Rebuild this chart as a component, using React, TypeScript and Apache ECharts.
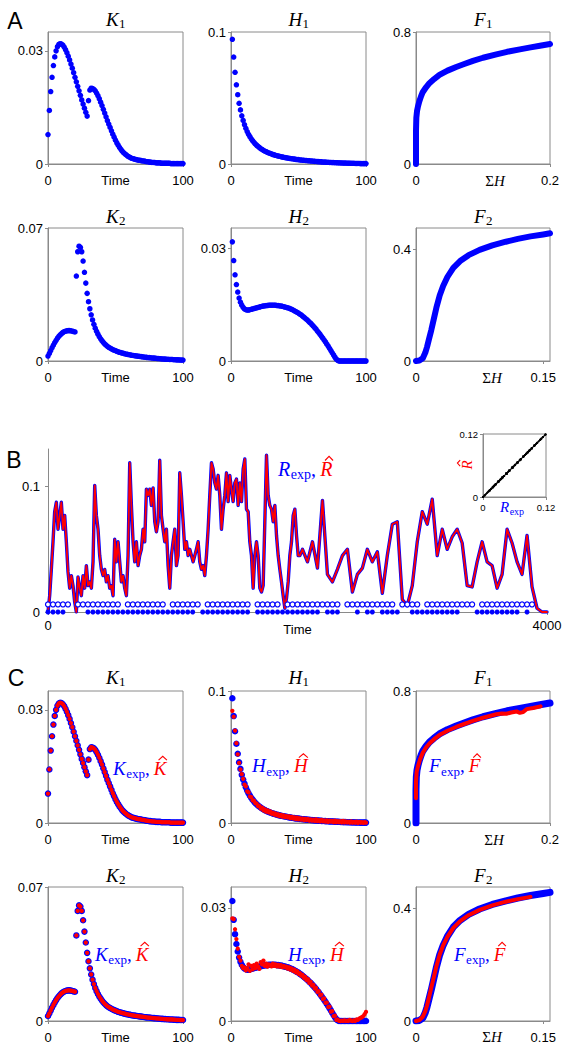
import React, { useEffect, useRef } from "react";
import * as echarts from "echarts";

// ---------------- data ----------------
// panel A/C row 1, time 0..100 (K1) and 1..100 (H1)
const K1 = [
  0.0078, 0.0142, 0.0192, 0.023, 0.0261, 0.0284, 0.03, 0.0311, 0.0317, 0.0319,
  0.0318, 0.0315, 0.031, 0.0303, 0.0295, 0.0286, 0.0276, 0.0265, 0.0254, 0.0242,
  0.023, 0.0218, 0.0206, 0.0194, 0.0182, 0.017, 0.0159, 0.0148, 0.0137, 0.0127,
  0.0168, 0.0196, 0.0201, 0.02, 0.0198, 0.0194, 0.0188, 0.0181, 0.0173, 0.0164,
  0.0155, 0.0145, 0.0135, 0.0125, 0.0115, 0.0106, 0.0097, 0.0088, 0.0079, 0.0071,
  0.0063, 0.0056, 0.005, 0.0044, 0.0039, 0.0034, 0.003, 0.0027, 0.0024, 0.0021,
  0.0019, 0.0017, 0.0015, 0.0014, 0.0013, 0.0012, 0.0011, 0.001, 0.001, 0.0009,
  0.0008, 0.0008, 0.0007, 0.0006, 0.0006, 0.0005, 0.0005, 0.0004, 0.0004, 0.0004,
  0.0003, 0.0003, 0.0003, 0.0003, 0.0002, 0.0002, 0.0002, 0.0002, 0.0002, 0.0002,
  0.0002, 0.0001, 0.0001, 0.0001, 0.0001, 0.0001, 0.0001, 0.0001, 0.0001, 0.0001, 0.0001,
];
const H1 = [
  0.0945, 0.081, 0.0695, 0.06, 0.0525, 0.046, 0.041, 0.0365, 0.033, 0.0298,
  0.027, 0.0246, 0.0225, 0.0207, 0.0191, 0.0177, 0.0164, 0.0152, 0.0142, 0.0133,
  0.0125, 0.0117, 0.011, 0.0104, 0.0098, 0.0093, 0.0088, 0.0084, 0.008, 0.0076,
  0.0072, 0.0069, 0.0066, 0.0063, 0.006, 0.0058, 0.0055, 0.0053, 0.0051, 0.0049,
  0.0047, 0.0045, 0.0043, 0.0041, 0.004, 0.0038, 0.0037, 0.0035, 0.0034, 0.0033,
  0.0031, 0.003, 0.0029, 0.0028, 0.0027, 0.0026, 0.0025, 0.0024, 0.0023, 0.0022,
  0.0021, 0.002, 0.0019, 0.0018, 0.0018, 0.0017, 0.0016, 0.0015, 0.0015, 0.0014,
  0.0013, 0.0013, 0.0012, 0.0012, 0.0011, 0.0011, 0.001, 0.001, 0.0009, 0.0009,
  0.0008, 0.0008, 0.0007, 0.0007, 0.0007, 0.0006, 0.0006, 0.0006, 0.0005, 0.0005,
  0.0005, 0.0004, 0.0004, 0.0004, 0.0004, 0.0003, 0.0003, 0.0003, 0.0003, 0.0003,
];
const H1_HAT = [
  0.085, 0.0805, 0.07, 0.0605, 0.052, 0.0455, 0.0405, 0.037, 0.0335, 0.029,
  0.0278, 0.024, 0.0232, 0.02, 0.0196, 0.0172, 0.017, 0.015, 0.0146, 0.0128,
  0.013, 0.011, 0.0116, 0.0096, 0.0104, 0.0086, 0.0096, 0.008, 0.0088, 0.007,
  0.0078, 0.0064, 0.0072, 0.0058, 0.0066, 0.0052, 0.0062, 0.0048, 0.0058, 0.0044,
  0.0052, 0.0042, 0.005, 0.0036, 0.0046, 0.0034, 0.0042, 0.003, 0.004, 0.0028,
  0.0036, 0.0026, 0.0034, 0.0022, 0.0032, 0.0022, 0.003, 0.0018, 0.0028, 0.0018,
  0.0026, 0.0016, 0.0028, 0.0014, 0.0022, 0.0012, 0.0024, 0.0012, 0.002, 0.001,
  0.002, 0.0008, 0.0018, 0.001, 0.0016, 0.0006, 0.0018, 0.0006, 0.0014, 0.0006,
  0.0014, 0.0004, 0.0016, 0.0004, 0.0012, 0.0004, 0.001, 0.0002, 0.0012, 0.0002,
  0.0008, 0.0002, 0.001, 0.0, 0.0008, 0.0002, 0.0006, 0.0, 0.0006, 0.0002,
];
const F1_SUMH = [0, 0, 0, 0.0005, 0.0015, 0.003, 0.005, 0.0075, 0.01, 0.015, 0.02, 0.027, 0.035, 0.047, 0.06, 0.072, 0.085, 0.1, 0.12, 0.136, 0.155, 0.171, 0.185, 0.2];
const F1_VAL = [0, 0.1, 0.2, 0.28, 0.32, 0.35, 0.38, 0.41, 0.435, 0.465, 0.49, 0.515, 0.54, 0.566, 0.588, 0.606, 0.625, 0.644, 0.664, 0.68, 0.695, 0.707, 0.717, 0.727];
const F1_HAT_SUMH = [0, 0, 0.001, 0.003, 0.006, 0.01, 0.015, 0.02, 0.027, 0.035, 0.047, 0.06, 0.072, 0.085, 0.1, 0.12, 0.128, 0.135, 0.142, 0.15, 0.155, 0.16, 0.165, 0.175, 0.186];
const F1_HAT_VAL = [0.15, 0.25, 0.31, 0.345, 0.385, 0.425, 0.458, 0.482, 0.508, 0.533, 0.559, 0.582, 0.6, 0.619, 0.638, 0.659, 0.663, 0.662, 0.67, 0.676, 0.668, 0.672, 0.69, 0.697, 0.707];

// row 2
const K2 = [
  0.0026, 0.004, 0.0055, 0.007, 0.0084, 0.0097, 0.0109, 0.012, 0.0129, 0.0137,
  0.0144, 0.015, 0.0154, 0.0157, 0.0159, 0.016, 0.016, 0.0159, 0.0157, 0.0155,
  0.0153, 0.0447, 0.0575, 0.0604, 0.0598, 0.0575, 0.0526, 0.0467, 0.041, 0.0356,
  0.0312, 0.0275, 0.0243, 0.0216, 0.0193, 0.0173, 0.0156, 0.0141, 0.0128, 0.0117,
  0.0107, 0.0098, 0.009, 0.0083, 0.0077, 0.0072, 0.0068, 0.0064, 0.006, 0.0057,
  0.0054, 0.0051, 0.0048, 0.0046, 0.0044, 0.0042, 0.004, 0.0038, 0.0036, 0.0035,
  0.0033, 0.0032, 0.003, 0.0029, 0.0028, 0.0027, 0.0026, 0.0025, 0.0024, 0.0023,
  0.0022, 0.0021, 0.002, 0.0019, 0.0018, 0.0018, 0.0017, 0.0016, 0.0015, 0.0015,
  0.0014, 0.0013, 0.0013, 0.0012, 0.0011, 0.0011, 0.001, 0.001, 0.0009, 0.0009,
  0.0008, 0.0008, 0.0008, 0.0007, 0.0007, 0.0006, 0.0006, 0.0006, 0.0005, 0.0005, 0.0005,
];
const H2 = [
  0.0318, 0.0268, 0.023, 0.0204, 0.0184, 0.0168, 0.0157, 0.0149, 0.0143, 0.0139,
  0.0137, 0.0136, 0.0136, 0.0137, 0.0138, 0.0139, 0.014, 0.0141, 0.0142, 0.0143,
  0.0144, 0.0145, 0.0146, 0.0147, 0.0147, 0.0148, 0.0148, 0.0149, 0.0149, 0.0149,
  0.0149, 0.0149, 0.0149, 0.0148, 0.0148, 0.0147, 0.0147, 0.0146, 0.0145, 0.0144,
  0.0143, 0.0142, 0.0141, 0.0139, 0.0138, 0.0136, 0.0134, 0.0132, 0.013, 0.0128,
  0.0125, 0.0123, 0.012, 0.0117, 0.0114, 0.0111, 0.0108, 0.0104, 0.0101, 0.0097,
  0.0093, 0.0089, 0.0085, 0.008, 0.0076, 0.0071, 0.0066, 0.0061, 0.0056, 0.0051,
  0.0045, 0.004, 0.0034, 0.0028, 0.0022, 0.0016, 0.001, 0.0005, 0.0002, 0,
  0, 0, 0, 0, 0, 0, 0, 0, 0, 0,
  0, 0, 0, 0, 0, 0, 0, 0, 0, 0,
];
const H2_HAT = [
  0.0272, 0.027, 0.0243, 0.0217, 0.0192, 0.017, 0.016, 0.0146, 0.014, 0.0142,
  0.0134, 0.014, 0.015, 0.0133, 0.0146, 0.0137, 0.0148, 0.014, 0.0152, 0.0145,
  0.0138, 0.0156, 0.015, 0.016, 0.0146, 0.0152, 0.0144, 0.015, 0.0147, 0.0145,
  0.0152, 0.0146, 0.015, 0.0145, 0.0149, 0.0144, 0.0148, 0.0143, 0.0146, 0.0142,
  0.0144, 0.0139, 0.0142, 0.0136, 0.0139, 0.0133, 0.0136, 0.0129, 0.0132, 0.0125,
  0.0127, 0.012, 0.0122, 0.0114, 0.0117, 0.0108, 0.0111, 0.0101, 0.0104, 0.0094,
  0.0096, 0.0086, 0.0088, 0.0077, 0.0079, 0.0068, 0.007, 0.0058, 0.006, 0.0048,
  0.0049, 0.0037, 0.0038, 0.0025, 0.0026, 0.0013, 0.0014, 0.0003, 0.0004, 0.0,
  0.0, 0.0001, 0.0, 0.0002, 0.0, 0.0001, 0.0, 0.0003, 0.0001, 0.0,
  0.0002, 0.0, 0.0004, 0.0003, 0.0006, 0.0008, 0.001, 0.0013, 0.0018, 0.0024,
];
const F2_SUMH = [0, 0.004, 0.008, 0.011, 0.013, 0.0155, 0.018, 0.021, 0.024, 0.028, 0.032, 0.037, 0.044, 0.052, 0.062, 0.075, 0.09, 0.106, 0.12, 0.135, 0.15, 0.158];
const F2_VAL = [0, 0.002, 0.01, 0.03, 0.05, 0.08, 0.11, 0.15, 0.19, 0.235, 0.268, 0.3, 0.333, 0.357, 0.378, 0.397, 0.413, 0.426, 0.436, 0.445, 0.452, 0.456];
const F2_HAT_SUMH = [0, 0.004, 0.008, 0.011, 0.013, 0.0155, 0.018, 0.021, 0.024, 0.028, 0.032, 0.037, 0.044, 0.052, 0.062, 0.075, 0.09, 0.106, 0.12, 0.135];
const F2_HAT_VAL = [0, 0.003, 0.015, 0.035, 0.055, 0.085, 0.118, 0.155, 0.193, 0.236, 0.268, 0.298, 0.33, 0.354, 0.375, 0.394, 0.41, 0.423, 0.432, 0.44];

// panel B: R(t). First part read every 13.37 time units (t = 0 .. 2018),
// second part read every 40 time units (t = 2040 .. 4000)
const B_STEP1 = 13.37;
const B_R1 = [
  0, 0.013, 0.034, 0.056, 0.08, 0.0875, 0.066, 0.077, 0.0875, 0.066,
  0.077, 0.056, 0.032, 0.019, 0.029, 0.021, 0.008, 0, 0.028, 0.019,
  0.013, 0.029, 0.019, 0.037, 0.021, 0.024, 0.019, 0.04, 0.101, 0.077,
  0.066, 0.045, 0.034, 0.029, 0.034, 0.024, 0.029, 0.019, 0.021, 0.013,
  0.058, 0.04, 0.056, 0.04, 0.024, 0.029, 0.019, 0.013, 0.045, 0.119,
  0.085, 0.056, 0.04, 0.056, 0.037, 0.045, 0.05, 0.066, 0.056, 0.098,
  0.093, 0.098, 0.085, 0.099, 0.072, 0.064, 0.072, 0.121, 0.077, 0.066,
  0.056, 0.066, 0.037, 0.019, 0.045, 0.056, 0.066, 0.037, 0.045, 0.111,
  0.093, 0.072, 0.05, 0.056, 0.045, 0.05, 0.045, 0.04, 0.045, 0.05,
  0.056, 0.04, 0.034, 0.037, 0.029, 0.045, 0.066, 0.093, 0.119, 0.114,
  0.103, 0.098, 0.109, 0.093, 0.066, 0.082, 0.093, 0.111, 0.088, 0.109,
  0.098, 0.088, 0.103, 0.106, 0.085, 0.103, 0.088, 0.114, 0.122, 0.082,
  0.08, 0.056, 0.045, 0.019, 0.045, 0.056, 0.045, 0.019, 0.016, 0.021,
  0.072, 0.125, 0.093, 0.085, 0.082, 0.072, 0.085, 0.061, 0.045, 0.034,
  0.024, 0.013, 0.003, 0.011, 0.024, 0.045, 0.056, 0.077, 0.082, 0.061,
  0.045, 0.045,
];
const B_START2 = 2040;
const B_STEP2 = 40;
const B_R2 = [
  0.05, 0.04, 0.056, 0.035, 0.089, 0.03, 0.024, 0.034, 0.045, 0.05,
  0.016, 0.03, 0.035, 0.05, 0.04, 0.048, 0.015, 0.045, 0.07, 0.072,
  0.01, 0.005, 0.021, 0.056, 0.08, 0.07, 0.09, 0.045, 0.066, 0.05,
  0.06, 0.066, 0.055, 0.021, 0.02, 0.04, 0.056, 0.04, 0.037, 0.019,
  0.03, 0.066, 0.055, 0.04, 0.03, 0.061, 0.02, 0.003, 0, 0,
];
// input markers, one character per 40 time units: open circles (level 0.006) and filled circles (level 0)
const B_MARK_STEP = 40;
const B_OPEN_LEVEL = 0.006;
const B_OPEN = "1111101111111110111111110111111011111111101111101111111111101111111111011110111111111101111111111100";
const B_FILLED = "1111000011111111111111111111110111111111101111111111111011100010110111100111111111100011111111101000";
const INSET_LINE = [0, 0.12];

// tick labels
const TIME_TICKS = [0, 100];
const K1_TICKS = [0, 0.03];
const H1_TICKS = [0, 0.1];
const F1_X_TICKS = [0, 0.2];
const F1_Y_TICKS = [0, 0.8];
const K2_TICKS = [0, 0.07];
const H2_TICKS = [0, 0.03];
const F2_X_TICKS = [0, 0.15];
const F2_Y_TICKS = [0, 0.4];
const B_X_TICKS = [0, 4000];
const B_Y_TICKS = [0, 0.1];
const INSET_TICKS = [0, 0.12];

// ---------------- styling ----------------
const SANS = '"Liberation Sans", Arial, sans-serif';
const SERIF_NAME = '"Liberation Serif", "Times New Roman", serif';
const BLUE = "#0000ff";
const RED = "#ff0000";
const GREY = "#8a8a8a";

let measureCtx: CanvasRenderingContext2D | null = null;
function textWidth(text: string, font: string) {
  if (!measureCtx) measureCtx = document.createElement("canvas").getContext("2d");
  measureCtx!.font = font;
  return measureCtx!.measureText(text).width;
}
function serif(size: number, italic: boolean) {
  return `${italic ? "italic " : ""}${size}px ${SERIF_NAME}`;
}
function textEl(x: number, baseline: number, text: string, font: string, size: number, fill: string, align = "left") {
  return {
    type: "text",
    x,
    y: baseline - 0.31 * size,
    silent: true,
    z: 100,
    style: { text, font, fill, align, verticalAlign: "middle", textAlign: align, textVerticalAlign: "middle" },
  };
}
function hatEl(x: number, baseline: number, size: number, w: number, color: string) {
  const capTop = baseline - 0.66 * size;
  const sh = 0.1 * size;
  return {
    type: "polyline",
    silent: true,
    z: 100,
    shape: { points: [[x + 0.22 * w + sh, capTop - 1.3], [x + 0.55 * w + sh, capTop - 0.27 * size], [x + 0.88 * w + sh, capTop - 1.3]] },
    style: { stroke: color, lineWidth: 1.1, fill: null },
  };
}
function title(cx: number, baseline: number, letter: string, sub: string) {
  const s = 19, ss = 13;
  const f1 = serif(s, true), f2 = serif(ss, false);
  const w1 = textWidth(letter, f1), w2 = textWidth(sub, f2);
  const x0 = cx - (w1 + w2) / 2;
  return [textEl(x0, baseline, letter, f1, s, "#000"), textEl(x0 + w1 + 0.5, baseline + 2.5, sub, f2, ss, "#000")];
}
function expLabel(x: number, baseline: number, letter: string, size = 19) {
  const fL = serif(size, true);
  const ss = Math.round(size * 0.68);
  const fS = serif(ss, false);
  const fC = serif(size, false);
  const w1 = textWidth(letter, fL);
  const w2 = textWidth("exp", fS);
  const w3 = textWidth(",", fC);
  const xr = x + w1 + 0.5 + w2 + w3 + 0.22 * size;
  return [
    textEl(x, baseline, letter, fL, size, BLUE),
    textEl(x + w1 + 0.5, baseline + 0.2 * size, "exp", fS, ss, BLUE),
    textEl(x + w1 + 0.5 + w2, baseline, ",", fC, size, BLUE),
    textEl(xr, baseline, letter, fL, size, RED),
    hatEl(xr, baseline, size, w1, RED),
  ];
}
function sigmaH(cx: number, cy: number) {
  const s = 15;
  const f1 = serif(s, false), f2 = serif(s, true);
  const w1 = textWidth("Σ", f1), w2 = textWidth("H", f2);
  const x0 = cx - (w1 + w2) / 2;
  const b = cy + 0.31 * s;
  return [textEl(x0, b, "Σ", f1, s, "#000"), textEl(x0 + w1, b, "H", f2, s, "#000")];
}
function letterEl(cx: number, cy: number, t: string) {
  return { type: "text", x: cx, y: cy, silent: true, z: 100, style: { text: t, font: `23px ${SANS}`, fill: "#000", align: "center", verticalAlign: "middle", textAlign: "center", textVerticalAlign: "middle" } };
}

function fmt(ticks: number[]) {
  return (v: number) => {
    const hit = ticks.find((t) => Math.abs(t - v) < 1e-9);
    return hit === undefined ? "" : String(hit);
  };
}

type AxisSpec = { max: number; ticks: number[]; fontSize?: number; margin?: number; name?: string; nameGap?: number };
function xAxis(gi: number, a: AxisSpec) {
  return {
    type: "value", gridIndex: gi, min: 0, max: a.max, interval: a.ticks[1] - a.ticks[0],
    name: a.name || "", nameLocation: "middle", nameGap: a.nameGap ?? 10, nameMoveOverlap: false,
    nameTextStyle: { fontFamily: SANS, fontSize: 13, color: "#000" },
    axisLine: { show: true, onZero: false, lineStyle: { color: GREY, width: 1 } },
    axisTick: { show: true, length: 3, inside: false, customValues: a.ticks, lineStyle: { color: GREY } },
    axisLabel: { show: true, customValues: a.ticks, formatter: fmt(a.ticks), color: "#000", fontFamily: SANS, fontSize: a.fontSize ?? 13, margin: a.margin ?? 10, hideOverlap: false },
    splitLine: { show: false },
  };
}
function yAxis(gi: number, a: AxisSpec) {
  return {
    type: "value", gridIndex: gi, min: 0, max: a.max, interval: a.ticks[1] - a.ticks[0],
    axisLine: { show: true, onZero: false, lineStyle: { color: GREY, width: 1 } },
    axisTick: { show: true, length: 3, inside: false, customValues: a.ticks, lineStyle: { color: GREY } },
    axisLabel: { show: true, customValues: a.ticks, formatter: fmt(a.ticks), color: "#000", fontFamily: SANS, fontSize: a.fontSize ?? 13, margin: a.margin ?? 5, hideOverlap: false },
    splitLine: { show: false },
  };
}
function dots(gi: number, data: number[][], color: string, size: number, z = 3) {
  return { type: "scatter", xAxisIndex: gi, yAxisIndex: gi, data, symbol: "circle", symbolSize: size, itemStyle: { color, opacity: 1 }, z, silent: true, animation: false };
}
function curve(gi: number, data: number[][], color: string, width: number, z = 3, opacity = 1) {
  return { type: "line", xAxisIndex: gi, yAxisIndex: gi, data, symbol: "none", showSymbol: false, lineStyle: { color, width, cap: "round", join: "round", opacity }, z, silent: true, animation: false };
}
const fromT0 = (arr: number[]) => arr.map((v, i) => [i, v]);
const fromT1 = (arr: number[]) => arr.map((v, i) => [i + 1, v]);
const zip = (xs: number[], ys: number[]) => xs.map((x, i) => [x, ys[i]]);

function buildOption() {
  // grid boxes: [left, top, width, height]
  const boxes = [
    [48, 32, 135, 132], [231, 32, 135, 132], [416, 32, 134, 132],
    [48, 228, 135, 133], [231, 228, 135, 133], [416, 228, 134, 133],
    [48, 449, 499, 163],
    [483, 434, 63, 63],
    [48, 691, 135, 132], [231, 691, 135, 132], [416, 691, 134, 132],
    [48, 887, 135, 134], [231, 887, 135, 134], [416, 887, 134, 134],
  ];
  const grid = boxes.map((b, i) => ({
    left: b[0], top: b[1], width: b[2], height: b[3],
    show: i !== 6, borderColor: GREY, borderWidth: 1, backgroundColor: "transparent",
    containLabel: false, outerBoundsMode: "none",
  }));

  const timeX = { max: 100, ticks: TIME_TICKS, name: "Time" };
  const xs: any[] = [];
  const ys: any[] = [];
  const rowSpecs = [
    [timeX, { max: 0.035, ticks: K1_TICKS }],
    [timeX, { max: 0.1, ticks: H1_TICKS }],
    [{ max: 0.2, ticks: F1_X_TICKS }, { max: 0.8, ticks: F1_Y_TICKS }],
    [timeX, { max: 0.07, ticks: K2_TICKS }],
    [timeX, { max: 0.0355, ticks: H2_TICKS }],
    [{ max: 0.158, ticks: F2_X_TICKS }, { max: 0.475, ticks: F2_Y_TICKS }],
  ];
  rowSpecs.forEach((s, i) => { xs.push(xAxis(i, s[0] as AxisSpec)); ys.push(yAxis(i, s[1] as AxisSpec)); });
  xs.push(xAxis(6, { max: 4000, ticks: B_X_TICKS, name: "Time", margin: 7, nameGap: 11 }));
  ys.push(yAxis(6, { max: 0.13, ticks: B_Y_TICKS, margin: 8 }));
  xs.push(xAxis(7, { max: 0.12, ticks: INSET_TICKS, fontSize: 9.5, margin: 5 }));
  ys.push(yAxis(7, { max: 0.12, ticks: INSET_TICKS, fontSize: 9.5, margin: 5 }));
  rowSpecs.forEach((s, i) => { xs.push(xAxis(8 + i, s[0] as AxisSpec)); ys.push(yAxis(8 + i, s[1] as AxisSpec)); });

  const bData = [
    ...B_R1.map((v, i) => [i * B_STEP1, v]),
    ...B_R2.map((v, i) => [B_START2 + i * B_STEP2, v]),
  ];
  const openPts = B_OPEN.split("").map((c, i) => (c === "1" ? [i * B_MARK_STEP, B_OPEN_LEVEL] : null)).filter(Boolean);
  const filledPts = B_FILLED.split("").map((c, i) => (c === "1" ? [i * B_MARK_STEP, 0] : null)).filter(Boolean) as number[][];

  const DOT_A = 5.5;
  const DOT_CB = 6.5;
  const DOT_CR = 4.3;
  const series: any[] = [
    dots(0, fromT0(K1), BLUE, DOT_A),
    dots(1, fromT1(H1), BLUE, DOT_A),
    curve(2, zip(F1_SUMH, F1_VAL), BLUE, 6),
    dots(3, fromT0(K2), BLUE, DOT_A),
    dots(4, fromT1(H2), BLUE, DOT_A),
    curve(5, zip(F2_SUMH, F2_VAL), BLUE, 6),
    curve(6, bData, BLUE, 3.4, 3),
    curve(6, bData, RED, 1.8, 4),
    {
      type: "scatter", xAxisIndex: 6, yAxisIndex: 6, symbol: "circle", symbolSize: 5, silent: true, z: 5,
      data: openPts,
      itemStyle: { color: "#ffffff", borderColor: BLUE, borderWidth: 1.2, opacity: 1 },
    },
    dots(6, filledPts, BLUE, 5, 5),
    curve(7, INSET_LINE.map((v) => [v, v]), "#000", 1.2, 3),
    dots(7, bData.map((p) => [p[1], p[1]]), "#000", 2.2, 4),
    dots(8, fromT0(K1), BLUE, DOT_CB),
    dots(8, fromT0(K1), RED, DOT_CR, 4),
    dots(9, fromT1(H1), BLUE, DOT_CB),
    dots(9, fromT1(H1_HAT), RED, DOT_CR, 4),
    curve(10, zip(F1_SUMH, F1_VAL), BLUE, 7),
    curve(10, zip(F1_HAT_SUMH, F1_HAT_VAL), RED, 4, 4),
    dots(11, fromT0(K2), BLUE, DOT_CB),
    dots(11, fromT0(K2), RED, DOT_CR, 4),
    dots(12, fromT1(H2), BLUE, DOT_CB),
    dots(12, fromT1(H2_HAT), RED, DOT_CR, 4),
    curve(13, zip(F2_SUMH, F2_VAL), BLUE, 7),
    curve(13, zip(F2_HAT_SUMH, F2_HAT_VAL), RED, 4, 4),
  ];

  const insetHatSize = 15;
  const wR = textWidth("R", serif(insetHatSize, true));
  const rotR = {
    type: "group", x: 463, y: 465, rotation: Math.PI / 2, silent: true, z: 100,
    children: [
      textEl(-wR / 2, 0.31 * insetHatSize + 3.7, "R", serif(insetHatSize, true), insetHatSize, RED),
      hatEl(-wR / 2, 0.31 * insetHatSize + 3.7, insetHatSize, wR, RED),
    ],
  };
  const wR2 = textWidth("R", serif(15, true));
  const graphic: any[] = [
    letterEl(15, 21, "A"),
    letterEl(14, 460, "B"),
    letterEl(16, 678, "C"),
    ...title(115.5, 25, "K", "1"), ...title(298.5, 25, "H", "1"), ...title(483, 25, "F", "1"),
    ...title(115.5, 222.5, "K", "2"), ...title(298.5, 222.5, "H", "2"), ...title(483, 222.5, "F", "2"),
    ...title(115.5, 683.5, "K", "1"), ...title(298.5, 683.5, "H", "1"), ...title(483, 683.5, "F", "1"),
    ...title(115.5, 881.5, "K", "2"), ...title(298.5, 881.5, "H", "2"), ...title(483, 881.5, "F", "2"),
    ...sigmaH(495, 181), ...sigmaH(492, 378), ...sigmaH(494, 840), ...sigmaH(492, 1037),
    ...expLabel(278, 475, "R", 20),
    ...expLabel(113, 774, "K"), ...expLabel(252, 771.5, "H"), ...expLabel(429, 771.5, "F"),
    ...expLabel(95, 960, "K"), ...expLabel(288, 960, "H"), ...expLabel(454, 960, "F"),
    rotR,
    textEl(500, 512, "R", serif(15, true), 15, BLUE),
    textEl(500 + wR2 + 0.5, 515, "exp", serif(10, false), 10, BLUE),
  ];

  return {
    animation: false,
    backgroundColor: "#ffffff",
    grid,
    xAxis: xs,
    yAxis: ys,
    series,
    graphic: { elements: graphic },
  };
}

export default function App() {
  const ref = useRef<HTMLDivElement>(null);
  useEffect(() => {
    const chart = echarts.init(ref.current!, null, { renderer: "svg", width: 564, height: 1050 });
    chart.setOption(buildOption() as any);
    return () => chart.dispose();
  }, []);
  return <div ref={ref} style={{ position: "absolute", left: 0, top: 0, width: 564, height: 1050, background: "#fff" }} />;
}
